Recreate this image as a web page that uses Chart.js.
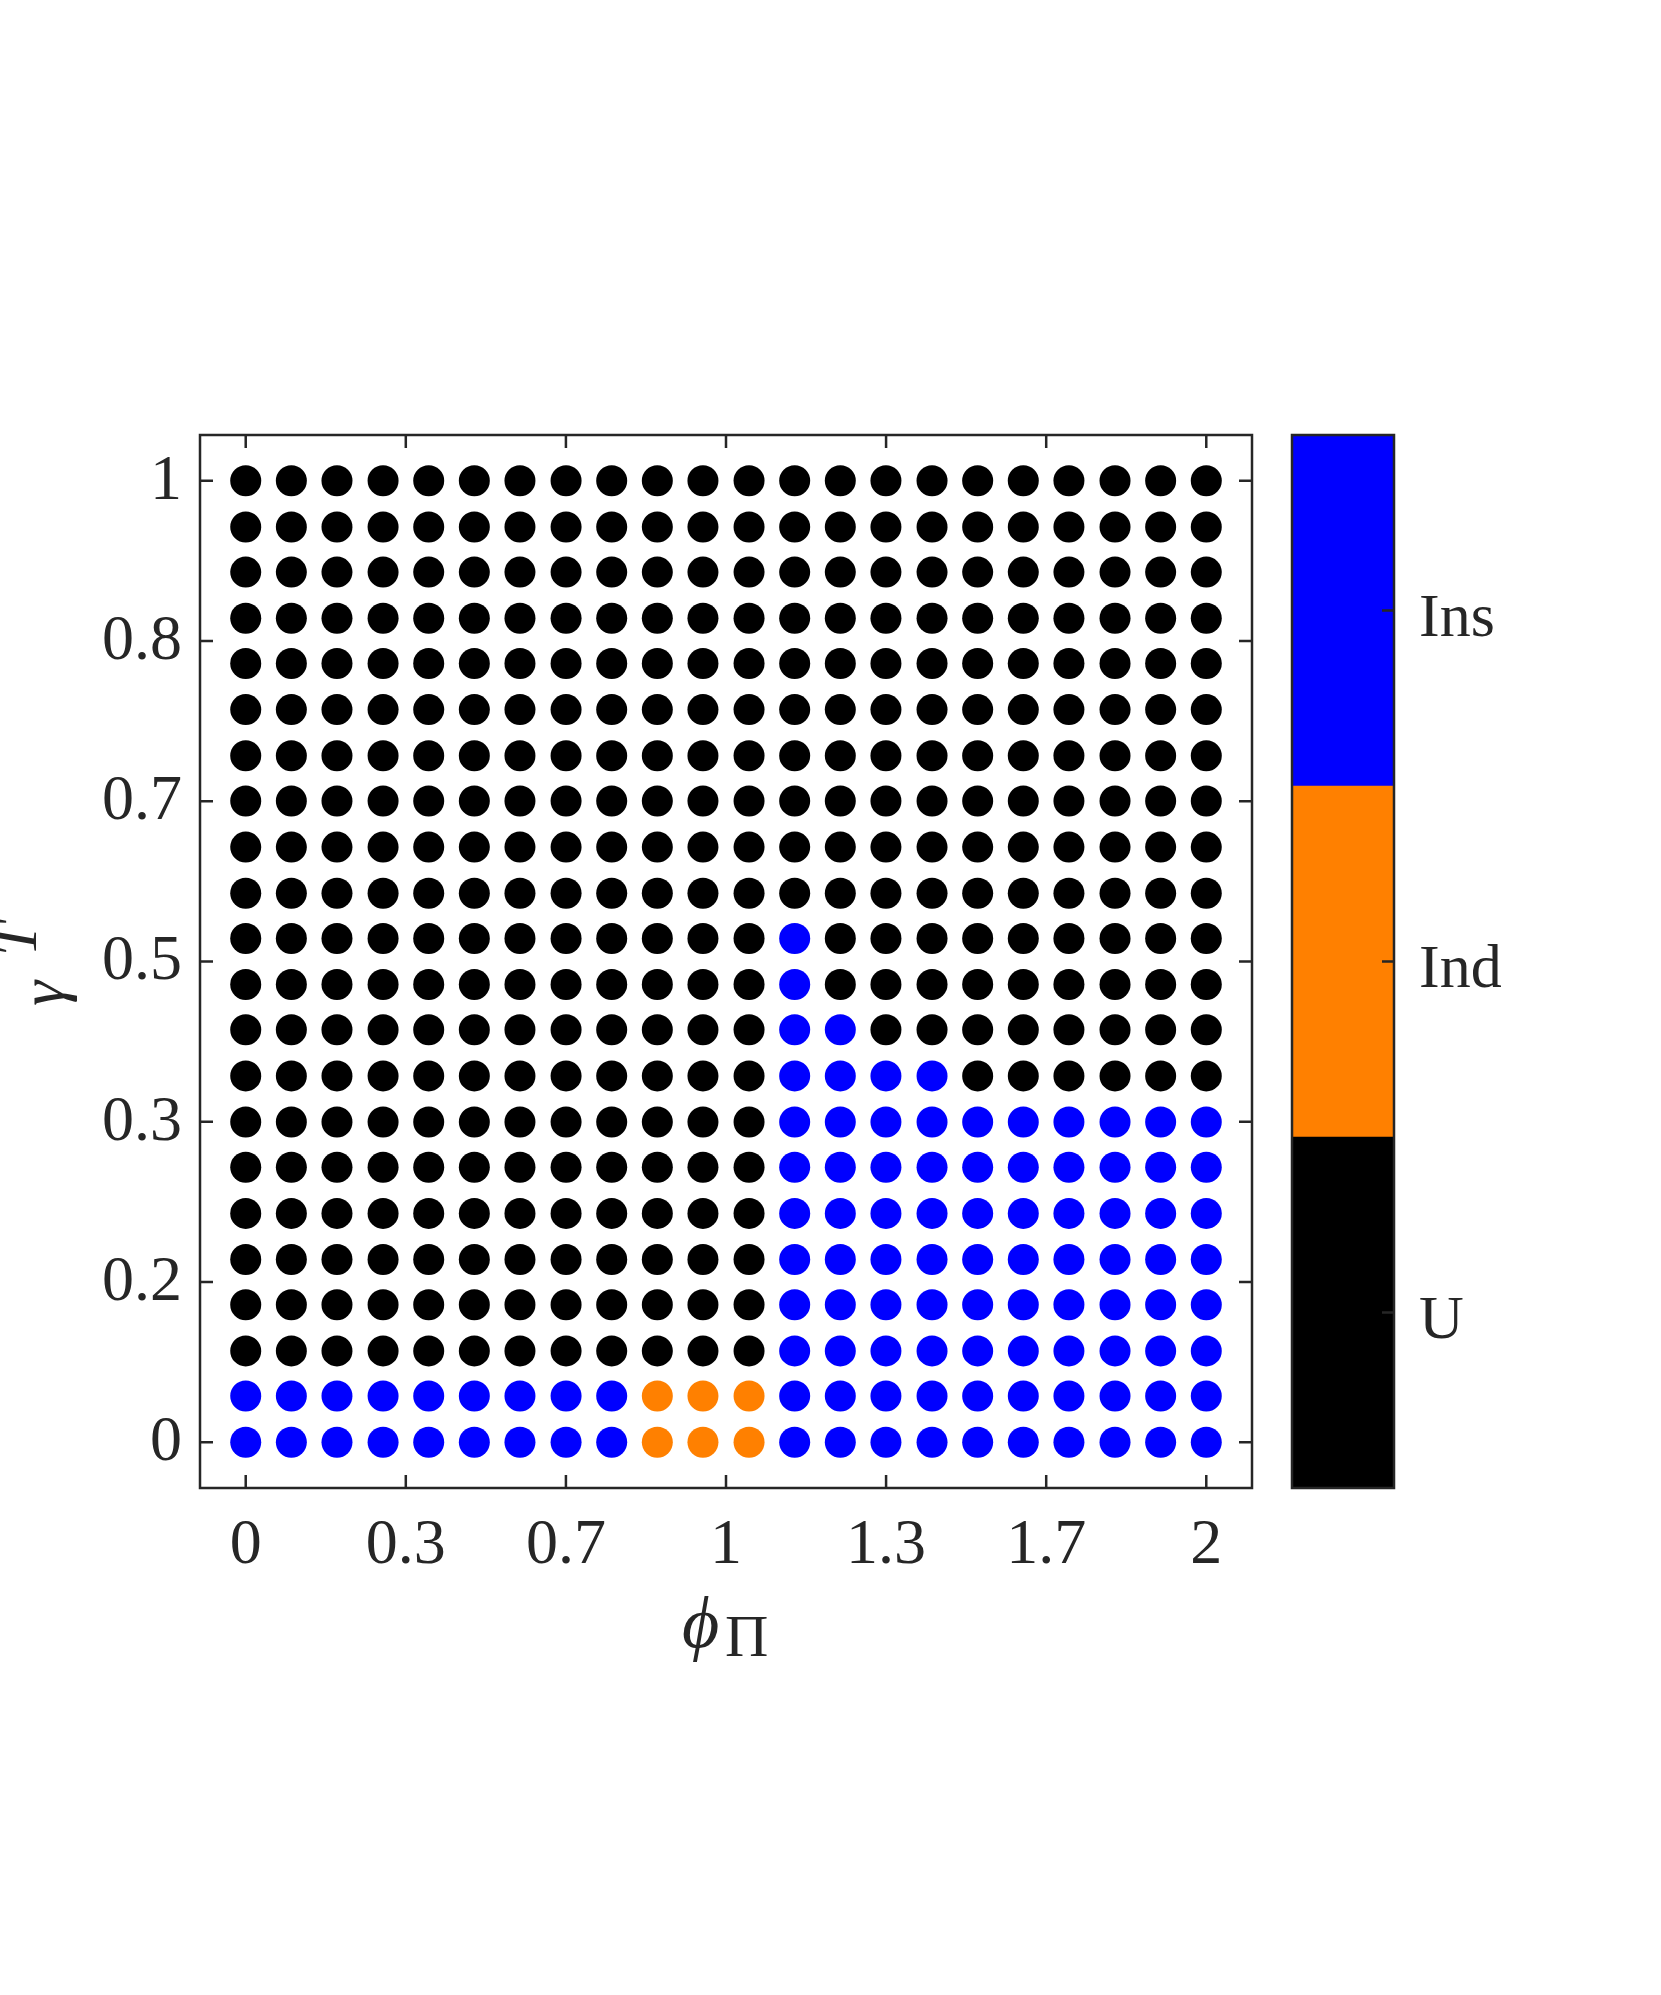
<!DOCTYPE html>
<html><head><meta charset="utf-8">
<script src="https://cdn.jsdelivr.net/npm/chart.js@4.4.0/dist/chart.umd.min.js"></script>
<style>
html,body{margin:0;padding:0;background:#fff;}
#wrap{position:relative;width:1661px;height:1995px;background:#fff;}
canvas{position:absolute;left:0;top:0;}
</style></head><body>
<div id="wrap"><canvas id="main" width="1661" height="1995"></canvas><canvas id="cbar" width="1661" height="1995"></canvas></div>
<script>
// grid coordinates
const phiValues = [0, 0.095, 0.190, 0.286, 0.381, 0.476, 0.571, 0.667, 0.762, 0.857, 0.952,
                   1.048, 1.143, 1.238, 1.333, 1.429, 1.524, 1.619, 1.714, 1.810, 1.905, 2.0];
const gammaValues = [0, 0.048, 0.095, 0.143, 0.190, 0.238, 0.286, 0.333, 0.381, 0.429, 0.476,
                     0.524, 0.571, 0.619, 0.667, 0.714, 0.762, 0.810, 0.857, 0.905, 0.952, 1.0];
// regime per grid point; row 0 = gamma 0, column i = phiValues[i]
// U = U, D = Ind, S = Ins
const regimeRows = [
  "SSSSSSSSSDDDSSSSSSSSSS",
  "SSSSSSSSSDDDSSSSSSSSSS",
  "UUUUUUUUUUUUSSSSSSSSSS",
  "UUUUUUUUUUUUSSSSSSSSSS",
  "UUUUUUUUUUUUSSSSSSSSSS",
  "UUUUUUUUUUUUSSSSSSSSSS",
  "UUUUUUUUUUUUSSSSSSSSSS",
  "UUUUUUUUUUUUSSSSSSSSSS",
  "UUUUUUUUUUUUSSSSUUUUUU",
  "UUUUUUUUUUUUSSUUUUUUUU",
  "UUUUUUUUUUUUSUUUUUUUUU",
  "UUUUUUUUUUUUSUUUUUUUUU",
  "UUUUUUUUUUUUUUUUUUUUUU",
  "UUUUUUUUUUUUUUUUUUUUUU",
  "UUUUUUUUUUUUUUUUUUUUUU",
  "UUUUUUUUUUUUUUUUUUUUUU",
  "UUUUUUUUUUUUUUUUUUUUUU",
  "UUUUUUUUUUUUUUUUUUUUUU",
  "UUUUUUUUUUUUUUUUUUUUUU",
  "UUUUUUUUUUUUUUUUUUUUUU",
  "UUUUUUUUUUUUUUUUUUUUUU",
  "UUUUUUUUUUUUUUUUUUUUUU"
];
const regimeCodes = ["U", "D", "S"];
const regimeNames = ["U", "Ind", "Ins"];
const regimeColors = ["#000000", "#FF8000", "#0000FF"];

const xTickValues = [0, 0.3333, 0.6667, 1, 1.3333, 1.6667, 2];
const xTickLabels = ["0", "0.3", "0.7", "1", "1.3", "1.7", "2"];
const yTickValues = [0, 0.1667, 0.3333, 0.5, 0.6667, 0.8333, 1];
const yTickLabels = ["0", "0.2", "0.3", "0.5", "0.7", "0.8", "1"];
const cbarTickValues = [0.5, 1.5, 2.5];
const xLimits = [-0.0952, 2.0952];
const yLimits = [-0.0476, 1.0476];

const AXC = '#262626';
const FONT = '"Liberation Serif", "Times New Roman", serif';

const datasets = regimeCodes.map((code, k) => {
  const pts = [];
  regimeRows.forEach((row, r) => {
    for (let c = 0; c < row.length; c++) {
      if (row[c] === code) pts.push({x: phiValues[c], y: gammaValues[r]});
    }
  });
  return {label: regimeNames[k], data: pts, backgroundColor: regimeColors[k],
          pointBackgroundColor: regimeColors[k], pointBorderWidth: 0, borderWidth: 0};
});

const framePlugin = {
  id: 'frame',
  afterDraw(chart) {
    const ctx = chart.ctx, ca = chart.chartArea;
    const xs = chart.scales.x, ys = chart.scales.y;
    ctx.save();
    ctx.strokeStyle = AXC; ctx.lineWidth = 2.5;
    ctx.strokeRect(ca.left, ca.top, ca.right - ca.left, ca.bottom - ca.top);
    const L = 13;
    ctx.beginPath();
    xTickValues.forEach(v => {
      const p = xs.getPixelForValue(v);
      ctx.moveTo(p, ca.bottom); ctx.lineTo(p, ca.bottom - L);
      ctx.moveTo(p, ca.top); ctx.lineTo(p, ca.top + L);
    });
    yTickValues.forEach(v => {
      const p = ys.getPixelForValue(v);
      ctx.moveTo(ca.left, p); ctx.lineTo(ca.left + L, p);
      ctx.moveTo(ca.right, p); ctx.lineTo(ca.right - L, p);
    });
    ctx.stroke();
    // axis titles
    ctx.fillStyle = AXC;
    ctx.textAlign = 'left'; ctx.textBaseline = 'alphabetic';
    ctx.font = 'italic 72px ' + FONT;
    ctx.fillText('\u03D5', 682, 1647);
    ctx.font = '60px ' + FONT;
    ctx.fillText('\u03A0', 725, 1656);
    ctx.translate(63, 1006);
    ctx.rotate(-Math.PI / 2);
    ctx.font = 'italic 64px ' + FONT;
    ctx.fillText('\u03B3', 0, 0);
    ctx.font = 'italic 60px ' + FONT;
    ctx.fillText('T', 50, -27);
    ctx.restore();
  }
};

new Chart(document.getElementById('main'), {
  type: 'scatter',
  data: {datasets},
  options: {
    responsive: false, animation: false, devicePixelRatio: 1,
    layout: {padding: {left: 0, top: 435, right: 409, bottom: 0}, autoPadding: false},
    plugins: {legend: {display: false}, tooltip: {enabled: false}},
    elements: {point: {radius: 15.5, hoverRadius: 15.5, borderWidth: 0}},
    scales: {
      x: {
        type: 'linear', min: xLimits[0], max: xLimits[1],
        grid: {display: false, drawTicks: false}, border: {display: false},
        afterBuildTicks: s => { s.ticks = xTickValues.map(v => ({value: v})); },
        afterFit: s => { s.height = 507; },
        ticks: {padding: 20, color: AXC, autoSkip: false, maxRotation: 0,
                font: {family: FONT, size: 64},
                callback: (v, i) => xTickLabels[i]}
      },
      y: {
        type: 'linear', min: yLimits[0], max: yLimits[1],
        grid: {display: false, drawTicks: false}, border: {display: false},
        afterBuildTicks: s => { s.ticks = yTickValues.map(v => ({value: v})); },
        afterFit: s => { s.width = 200; },
        ticks: {padding: 18, color: AXC, autoSkip: false, labelOffset: 1,
                font: {family: FONT, size: 64},
                callback: (v, i) => yTickLabels[i]}
      }
    }
  },
  plugins: [framePlugin]
});

// colorbar
const cbarFrame = {
  id: 'cbarFrame',
  afterDraw(chart) {
    const ctx = chart.ctx, ca = chart.chartArea, ys = chart.scales.y;
    ctx.save();
    ctx.strokeStyle = AXC; ctx.lineWidth = 2.5;
    ctx.strokeRect(ca.left, ca.top, ca.right - ca.left, ca.bottom - ca.top);
    ctx.beginPath();
    cbarTickValues.forEach(v => {
      const p = ys.getPixelForValue(v);
      ctx.moveTo(ca.right, p); ctx.lineTo(ca.right - 12, p);
    });
    ctx.stroke();
    ctx.restore();
  }
};

new Chart(document.getElementById('cbar'), {
  type: 'bar',
  data: {
    labels: [''],
    datasets: regimeNames.map((n, k) => ({label: n, data: [1], backgroundColor: regimeColors[k],
      borderWidth: 0, categoryPercentage: 1, barPercentage: 1}))
  },
  options: {
    responsive: false, animation: false, devicePixelRatio: 1,
    layout: {padding: {left: 1292, top: 435, right: 0, bottom: 507}, autoPadding: false},
    plugins: {legend: {display: false}, tooltip: {enabled: false}},
    scales: {
      x: {stacked: true, display: false},
      y: {
        stacked: true, position: 'right', min: 0, max: 3,
        grid: {display: false, drawTicks: false}, border: {display: false},
        afterBuildTicks: s => { s.ticks = cbarTickValues.map(v => ({value: v})); },
        afterFit: s => { s.width = 267; },
        ticks: {padding: 25, color: AXC, autoSkip: false, labelOffset: 9,
                font: {family: FONT, size: 62},
                callback: (v, i) => regimeNames[i]}
      }
    }
  },
  plugins: [cbarFrame]
});
</script>
</body></html>
